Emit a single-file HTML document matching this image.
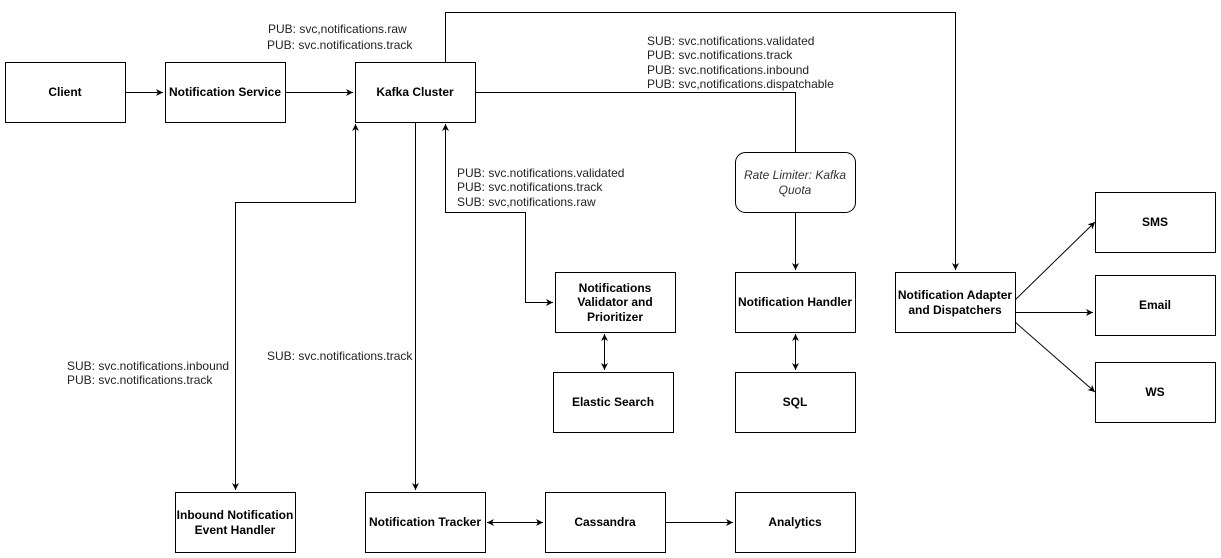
<!DOCTYPE html>
<html><head><meta charset="utf-8"><style>
body{margin:0;background:#fff;}
svg{display:block;font-family:"Liberation Sans",Arial,sans-serif;}
.b{fill:#fff;stroke:#000;stroke-width:1}
.t{font-size:12px;font-weight:bold;text-anchor:middle;fill:#000}
.l{font-size:12px;fill:#222}
.c{fill:none;stroke:#000;stroke-width:1}
</style></head><body>
<svg width="1221" height="558" viewBox="0 0 1221 558">
<defs><marker id="a" markerWidth="8" markerHeight="8" refX="7" refY="4" orient="auto-start-reverse" markerUnits="userSpaceOnUse"><path d="M0,0.5 L7,4 L0,7.5 L2,4z" fill="#000"/></marker></defs>
<!-- connectors -->
<path class="c" d="M125.5,92.5H163" marker-end="url(#a)"/>
<path class="c" d="M285.5,92.5H353" marker-end="url(#a)"/>
<path class="c" d="M445.5,62V12.5H955.5V270" marker-end="url(#a)"/>
<path class="c" d="M475,92.5H795.5V152"/>
<path class="c" d="M795.5,212V270" marker-end="url(#a)"/>
<path class="c" d="M553,302.5H525.5V212.5H445.5V124" marker-start="url(#a)" marker-end="url(#a)"/>
<path class="c" d="M415.5,122V490" marker-end="url(#a)"/>
<path class="c" d="M235.5,490V202.5H355.5V124" marker-start="url(#a)" marker-end="url(#a)"/>
<path class="c" d="M604.5,334V370" marker-start="url(#a)" marker-end="url(#a)"/>
<path class="c" d="M795.5,334V370" marker-start="url(#a)" marker-end="url(#a)"/>
<path class="c" d="M487,522.5H543" marker-start="url(#a)" marker-end="url(#a)"/>
<path class="c" d="M665,522.5H733" marker-end="url(#a)"/>
<path class="c" d="M1015,300L1095,222" marker-end="url(#a)"/>
<path class="c" d="M1015,312.5H1093" marker-end="url(#a)"/>
<path class="c" d="M1015,322L1095,392" marker-end="url(#a)"/>
<!-- boxes -->
<rect class="b" x="5.5" y="62.5" width="120" height="60"/><text class="t" x="65" y="96">Client</text>
<rect class="b" x="165.5" y="62.5" width="120" height="60"/><text class="t" x="225" y="96">Notification Service</text>
<rect class="b" x="355.5" y="62.5" width="120" height="60"/><text class="t" x="415" y="96">Kafka Cluster</text>
<rect class="b" x="735.5" y="152.5" width="120" height="60" rx="10"/><text x="795" y="179" font-size="12" font-style="italic" text-anchor="middle" fill="#333">Rate Limiter: Kafka</text><text x="795" y="194" font-size="12" font-style="italic" text-anchor="middle" fill="#333">Quota</text>
<rect class="b" x="555.5" y="272.5" width="120" height="60"/><text class="t" x="615" y="292">Notifications</text><text class="t" x="615" y="306">Validator and</text><text class="t" x="615" y="321">Prioritizer</text>
<rect class="b" x="735.5" y="272.5" width="120" height="60"/><text class="t" x="795" y="306">Notification Handler</text>
<rect class="b" x="895.5" y="272.5" width="120" height="60"/><text class="t" x="955" y="299">Notification Adapter</text><text class="t" x="955" y="314">and Dispatchers</text>
<rect class="b" x="1095.5" y="192.5" width="120" height="60"/><text class="t" x="1155" y="226">SMS</text>
<rect class="b" x="1095.5" y="275.5" width="120" height="60"/><text class="t" x="1155" y="309">Email</text>
<rect class="b" x="1095.5" y="362.5" width="120" height="60"/><text class="t" x="1155" y="396">WS</text>
<rect class="b" x="553.5" y="372.5" width="120" height="60"/><text class="t" x="613" y="406">Elastic Search</text>
<rect class="b" x="735.5" y="372.5" width="120" height="60"/><text class="t" x="795" y="406">SQL</text>
<rect class="b" x="175.5" y="492.5" width="120" height="60"/><text class="t" x="235" y="519">Inbound Notification</text><text class="t" x="235" y="534">Event Handler</text>
<rect class="b" x="365.5" y="492.5" width="120" height="60"/><text class="t" x="425" y="526">Notification Tracker</text>
<rect class="b" x="545.5" y="492.5" width="120" height="60"/><text class="t" x="605" y="526">Cassandra</text>
<rect class="b" x="735.5" y="492.5" width="120" height="60"/><text class="t" x="795" y="526">Analytics</text>
<!-- labels -->
<text class="l" x="268" y="33">PUB: svc,notifications.raw</text>
<text class="l" x="267" y="49">PUB: svc.notifications.track</text>
<text class="l" x="647" y="45">SUB: svc.notifications.validated</text>
<text class="l" x="647" y="59">PUB: svc.notifications.track</text>
<text class="l" x="647" y="74">PUB: svc.notifications.inbound</text>
<text class="l" x="647" y="88">PUB: svc,notifications.dispatchable</text>
<text class="l" x="457" y="177">PUB: svc.notifications.validated</text>
<text class="l" x="457" y="191">PUB: svc.notifications.track</text>
<text class="l" x="457" y="206">SUB: svc,notifications.raw</text>
<text class="l" x="267" y="360">SUB: svc.notifications.track</text>
<text class="l" x="67" y="370">SUB: svc.notifications.inbound</text>
<text class="l" x="67" y="384">PUB: svc.notifications.track</text>
</svg>
</body></html>
